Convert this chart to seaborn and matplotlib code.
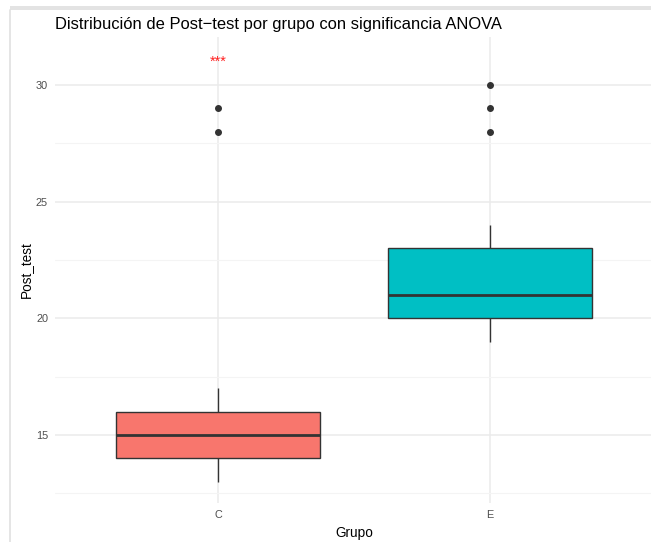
import matplotlib
matplotlib.use("Agg")
import matplotlib.pyplot as plt
from matplotlib.patches import Rectangle
from matplotlib.lines import Line2D
from matplotlib.ticker import MultipleLocator
import seaborn as sns
import pandas as pd

# Post-test scores per group
grupo_c = [13, 14, 14, 14, 14, 15, 15, 15, 15, 15, 16, 16, 16, 16, 17, 28, 29]
grupo_e = [19, 20, 20, 20, 20, 21, 21, 21, 21, 22, 22, 23, 23, 24, 28, 29, 30]
grupos = ["C", "E"]
colores = {"C": "#F8766D", "E": "#00BFC4"}
signif_label = "***"
signif_y = 31.0

df = pd.DataFrame({
    "Grupo": ["C"] * len(grupo_c) + ["E"] * len(grupo_e),
    "Post_test": grupo_c + grupo_e,
})

sns.set_theme(style="whitegrid")
plt.rcParams["font.family"] = ["Liberation Sans", "DejaVu Sans"]

W, H = 651, 542
fig = plt.figure(figsize=(W / 100, H / 100), dpi=100)
ax = fig.add_axes([55 / W, 1 - 503 / H, 598 / W, (503 - 36.7) / H])

sns.boxplot(
    data=df, x="Grupo", y="Post_test", hue="Grupo", order=grupos,
    palette=colores, saturation=1, width=0.75, linewidth=1.0,
    linecolor="#333333", dodge=False, legend=False, ax=ax,
    flierprops=dict(marker="o", markersize=4.0, markerfacecolor="#333333",
                    markeredgecolor="#333333"),
    medianprops=dict(linewidth=2.0, color="#333333"),
    whiskerprops=dict(linewidth=1.0, color="#333333"),
    capprops=dict(linewidth=0),
)

ax.text(0, signif_y, signif_label, color="#FF2020", ha="center", va="center",
        fontsize=10.5)

ax.set_xlim(-0.6, 1.6)
ax.set_ylim(12.09, 32.07)
ax.yaxis.set_major_locator(MultipleLocator(5))
ax.yaxis.set_minor_locator(MultipleLocator(2.5))

ax.set_facecolor("white")
for s in ax.spines.values():
    s.set_visible(False)
ax.grid(True, which="major", color="#EBEBEB", linewidth=1.1)
ax.grid(True, which="minor", axis="y", color="#F4F4F4", linewidth=0.8)
ax.set_axisbelow(True)
ax.tick_params(axis="both", which="both", length=0, labelsize=7.8,
               labelcolor="#4D4D4D")
ax.tick_params(axis="y", pad=5)
ax.tick_params(axis="x", pad=5)

ax.set_xlabel("Grupo", fontsize=9.8, color="black", labelpad=4)
ax.set_ylabel("Post_test", fontsize=9.8, color="black", labelpad=2)

fig.text(55 / W, 1 - 25 / H, "Distribución de Post\u2212test por grupo con significancia ANOVA",
         ha="left", va="center", fontsize=11.9, color="black")

# Window frame around the plot
fig.add_artist(Rectangle((10 / W, 1 - 10 / H), 1 - 10 / W, 4 / H,
                         transform=fig.transFigure, facecolor="#E3E3E3",
                         edgecolor="none"))
fig.add_artist(Line2D([10 / W, 10 / W], [0, 1 - 10 / H],
                      transform=fig.transFigure, color="#E0E0E0", linewidth=1.2))

fig.savefig("out.png", dpi=100, facecolor="white")
